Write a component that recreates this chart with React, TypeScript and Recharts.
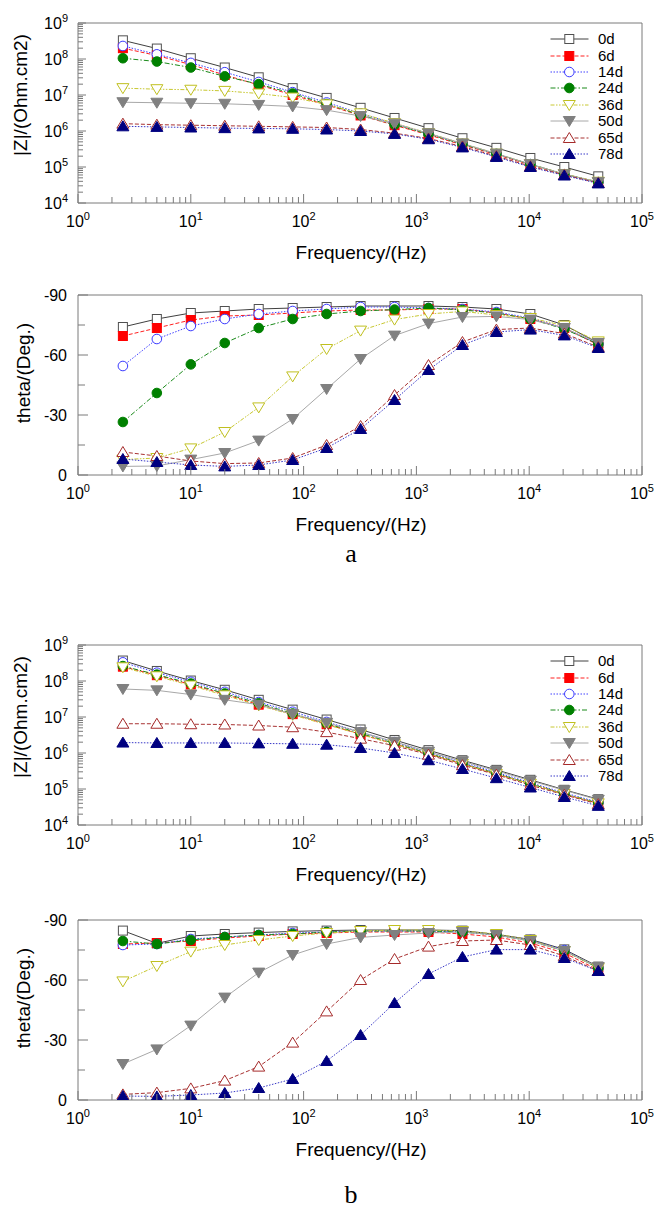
import React from 'react'
import { LineChart, Line, XAxis, YAxis, ReferenceArea, Legend } from 'recharts'

// frequency points (Hz)
const freqs = [2.5, 5, 10, 20, 40, 80, 160, 320, 640, 1280, 2560, 5120, 10240, 20480, 40960]
const seriesNames = ['0d', '6d', '14d', '24d', '36d', '50d', '65d', '78d']

// panel a, |Z| (Ohm.cm2)
const zA0 = [3.3e8, 1.95e8, 1.05e8, 5.8e7, 3.1e7, 1.55e7, 8.3e6, 4.4e6, 2.3e6, 1.2e6, 6.3e5, 3.4e5, 1.78e5, 1.0e5, 5.5e4]
const zA6 = [2.0e8, 1.25e8, 7.0e7, 3.6e7, 1.9e7, 1.0e7, 5.3e6, 2.7e6, 1.45e6, 7.8e5, 4.1e5, 2.2e5, 1.15e5, 6.2e4, 3.8e4]
const zA14 = [2.3e8, 1.35e8, 7.8e7, 4.3e7, 2.3e7, 1.2e7, 6.2e6, 3.1e6, 1.6e6, 8.4e5, 4.4e5, 2.3e5, 1.2e5, 6.3e4, 3.8e4]
const zA24 = [1.05e8, 8.5e7, 5.8e7, 3.3e7, 2.0e7, 1.1e7, 5.6e6, 2.8e6, 1.5e6, 8.2e5, 4.3e5, 2.3e5, 1.2e5, 6.3e4, 3.8e4]
const zA36 = [1.55e7, 1.45e7, 1.4e7, 1.3e7, 1.1e7, 8.5e6, 5.5e6, 3.1e6, 1.65e6, 8.7e5, 4.5e5, 2.35e5, 1.2e5, 6.4e4, 3.9e4]
const zA50 = [6.3e6, 6.1e6, 5.9e6, 5.7e6, 5.3e6, 4.8e6, 3.8e6, 2.6e6, 1.6e6, 8.6e5, 4.5e5, 2.35e5, 1.2e5, 6.3e4, 3.8e4]
const zA65 = [1.6e6, 1.5e6, 1.45e6, 1.4e6, 1.35e6, 1.3e6, 1.25e6, 1.1e6, 8.7e5, 6.2e5, 3.7e5, 2.0e5, 1.05e5, 6.0e4, 3.6e4]
const zA78 = [1.35e6, 1.3e6, 1.25e6, 1.2e6, 1.18e6, 1.15e6, 1.1e6, 1.0e6, 8.3e5, 5.9e5, 3.5e5, 1.9e5, 1.0e5, 5.8e4, 3.5e4]

// panel a, phase angle (deg)
const tA0 = [-74, -78, -81, -82, -83, -83.5, -84, -84.5, -84.5, -84.5, -84, -83, -80.5, -75, -66]
const tA6 = [-69.5, -73.5, -77.5, -79.5, -80, -81, -82, -82.5, -82.5, -83, -83, -81, -78, -73.5, -65]
const tA14 = [-54.5, -68, -74.5, -78, -80.5, -82, -83, -84, -84, -83.5, -83, -81.5, -78.5, -73.5, -65.5]
const tA24 = [-26.5, -41, -55.3, -66, -73.5, -78, -80.5, -82, -82.7, -83.5, -82.5, -81, -78, -73, -65.5]
const tA36 = [-7.7, -8.5, -13.3, -21.5, -33.8, -49.3, -63, -72.2, -77.7, -80.5, -81.8, -80, -78.5, -74.7, -66.8]
const tA50 = [-4.3, -4.5, -7.7, -11, -17.2, -28, -43, -58, -69.7, -75.7, -79, -79.3, -77.7, -73.5, -66]
const tA65 = [-11.5, -9.5, -7, -5.7, -6, -8.5, -15, -24.5, -40, -55, -66.5, -72.7, -73.5, -70.7, -64]
const tA78 = [-8, -6.5, -5, -4.3, -5, -7.5, -13.5, -23, -37.5, -52.5, -65, -71.5, -72.7, -69.8, -63.5]

// panel b, |Z| (Ohm.cm2)
const zB0 = [3.7e8, 1.9e8, 1.03e8, 5.7e7, 3.0e7, 1.6e7, 8.5e6, 4.5e6, 2.3e6, 1.2e6, 6.3e5, 3.4e5, 1.8e5, 9.5e4, 5.2e4]
const zB6 = [2.5e8, 1.45e8, 8.0e7, 4.3e7, 2.2e7, 1.2e7, 6.3e6, 3.3e6, 1.8e6, 9.5e5, 5.0e5, 2.6e5, 1.4e5, 7.2e4, 4.0e4]
const zB14 = [3.3e8, 1.7e8, 9.5e7, 5.0e7, 2.6e7, 1.4e7, 7.3e6, 3.8e6, 2.0e6, 1.05e6, 5.5e5, 2.9e5, 1.5e5, 7.8e4, 4.3e4]
const zB24 = [2.6e8, 1.5e8, 8.5e7, 4.5e7, 2.4e7, 1.25e7, 6.6e6, 3.5e6, 1.85e6, 9.8e5, 5.1e5, 2.7e5, 1.4e5, 7.3e4, 4.1e4]
const zB36 = [2.4e8, 1.35e8, 7.5e7, 4.0e7, 2.1e7, 1.15e7, 6.1e6, 3.3e6, 1.75e6, 9.5e5, 5.0e5, 2.6e5, 1.4e5, 7.2e4, 4.0e4]
const zB50 = [6.0e7, 5.5e7, 4.2e7, 3.0e7, 2.2e7, 1.2e7, 6.9e6, 3.8e6, 2.05e6, 1.08e6, 5.9e5, 3.2e5, 1.7e5, 9.2e4, 5.0e4]
const zB65 = [6.5e6, 6.5e6, 6.3e6, 6.2e6, 5.8e6, 5.2e6, 3.8e6, 2.5e6, 1.6e6, 9.0e5, 4.6e5, 2.5e5, 1.27e5, 6.9e4, 3.8e4]
const zB78 = [1.95e6, 1.9e6, 1.9e6, 1.9e6, 1.85e6, 1.8e6, 1.7e6, 1.38e6, 1.0e6, 6.3e5, 3.6e5, 2.0e5, 1.1e5, 6.0e4, 3.4e4]

// panel b, phase angle (deg)
const tB0 = [-84.7, -78.3, -82, -83, -83.7, -84.3, -84.7, -85, -85, -85, -84.7, -82.8, -80.3, -75.3, -66.7]
const tB6 = [-78, -78.5, -79.5, -81, -82, -83, -83.5, -84, -84, -84, -83, -81.5, -78.5, -73.5, -65]
const tB14 = [-77.5, -78, -80.5, -81.5, -82.5, -83.5, -84, -84.5, -84.5, -84.5, -84, -82.5, -80, -75, -66]
const tB24 = [-79.5, -78, -80, -81.5, -82.5, -83, -84, -84.5, -84.5, -84.5, -84, -82.5, -79.5, -74.5, -66]
const tB36 = [-59.3, -67, -74.2, -77.5, -80, -82, -83.5, -84.5, -85, -85, -84.5, -83, -80, -74.5, -66]
const tB50 = [-18, -25.3, -37.2, -51.2, -63.7, -72.5, -78, -81.3, -82.5, -83.5, -84, -82.5, -79.5, -74.5, -66.5]
const tB65 = [-2.8, -3.7, -5.8, -9.7, -16.7, -28.7, -44.3, -60, -70.5, -76.7, -79.5, -80, -77.5, -72, -64.5]
const tB78 = [-2, -1.8, -2.5, -3.5, -6, -10.5, -19.5, -32.5, -48.5, -63, -71.5, -75.2, -75.2, -71, -64.5]

const thetaTicks = [-90, -75, -60, -45, -30, -15, 0]

const FONT = '"Liberation Sans", Arial, sans-serif'
const AXIS = '#7a7a7a'

const keys = seriesNames.map((n) => 's' + n)

const styles = [
  { line: '#404040', dash: undefined, shape: 'square', fill: '#ffffff', edge: '#505050' },
  { line: '#ff2020', dash: '4 2', shape: 'square', fill: '#ff0000', edge: '#ff0000' },
  { line: '#4040ff', dash: '1.5 1.5', shape: 'circle', fill: '#ffffff', edge: '#3a3aff' },
  { line: '#1a8a1a', dash: '5 2 1.5 2', shape: 'circle', fill: '#008000', edge: '#008000' },
  { line: '#c8c832', dash: '4 1.5 1.5 1.5 1.5 1.5', shape: 'down', fill: '#ffffff', edge: '#c0c020' },
  { line: '#a8a8a8', dash: undefined, shape: 'down', fill: '#808080', edge: '#808080' },
  { line: '#a83232', dash: '4 2', shape: 'up', fill: '#ffffff', edge: '#a52a2a' },
  { line: '#3838c8', dash: '1.5 1.5', shape: 'up', fill: '#000080', edge: '#000080' },
]

function buildRows(cols: number[][]) {
  return freqs.map((f, i) => {
    const row: Record<string, number> = { f }
    cols.forEach((c, k) => {
      row[keys[k]] = c[i]
    })
    return row
  })
}

// log ticks: decades plus 2..9 minors
function logTicks(lo: number, hi: number) {
  const out: number[] = []
  for (let e = lo; e <= hi; e++) {
    out.push(Math.pow(10, e))
    if (e < hi) for (let m = 2; m <= 9; m++) out.push(m * Math.pow(10, e))
  }
  return out
}
const xTicks = logTicks(0, 5)
const zTicks = logTicks(4, 9)

function isDecade(v: number) {
  const e = Math.log10(v)
  return Math.abs(e - Math.round(e)) < 1e-9
}

function Marker({ cx, cy, shape, fill, edge }: any) {
  if (cx == null || cy == null) return null
  if (shape === 'square')
    return <rect x={cx - 4.5} y={cy - 4.5} width={9} height={9} fill={fill} stroke={edge} strokeWidth={1} />
  if (shape === 'circle') return <circle cx={cx} cy={cy} r={4.8} fill={fill} stroke={edge} strokeWidth={1} />
  if (shape === 'down')
    return (
      <polygon
        points={`${cx - 6},${cy - 4.5} ${cx + 6},${cy - 4.5} ${cx},${cy + 5.5}`}
        fill={fill}
        stroke={edge}
        strokeWidth={1}
      />
    )
  return (
    <polygon
      points={`${cx - 6},${cy + 4.5} ${cx + 6},${cy + 4.5} ${cx},${cy - 5.5}`}
      fill={fill}
      stroke={edge}
      strokeWidth={1}
    />
  )
}

function LogXTick(props: any) {
  const { x, y, payload } = props
  const v = payload.value
  const major = isDecade(v)
  return (
    <g>
      <line x1={x} x2={x} y1={y} y2={y - (major ? 9 : 6)} stroke={AXIS} />
      {major && (
        <text x={x} y={y + 24} textAnchor="middle" fontSize={16} fill="#000" fontFamily={FONT}>
          10
          <tspan dy={-7} fontSize={11}>
            {Math.round(Math.log10(v))}
          </tspan>
        </text>
      )}
    </g>
  )
}

function LogYTick(props: any) {
  const { x, y, payload } = props
  const v = payload.value
  const major = isDecade(v)
  return (
    <g>
      <line x1={x} x2={x + (major ? 8 : 5)} y1={y} y2={y} stroke={AXIS} />
      {major && (
        <text x={x - 10} y={y + 6} textAnchor="end" fontSize={16} fill="#000" fontFamily={FONT}>
          10
          <tspan dy={-7} fontSize={11}>
            {Math.round(Math.log10(v))}
          </tspan>
        </text>
      )}
    </g>
  )
}

function ThetaTick(props: any) {
  const { x, y, payload } = props
  const v = payload.value
  const major = v % 30 === 0
  return (
    <g>
      <line x1={x} x2={x + (major ? 10 : 7)} y1={y} y2={y} stroke={AXIS} />
      {major && (
        <text x={x - 11} y={y + 6} textAnchor="end" fontSize={16} fill="#000" fontFamily={FONT}>
          {v}
        </text>
      )}
    </g>
  )
}

function XTitle(props: any) {
  const vb = props.viewBox || { x: 78, y: 203, width: 564 }
  return (
    <text x={vb.x + vb.width / 2 + 1} y={vb.y + 55.5} textAnchor="middle" fontSize={19} fill="#000" fontFamily={FONT}>
      Frequency/(Hz)
    </text>
  )
}

function YTitle(props: any) {
  const vb = props.viewBox || { y: 23 }
  const cx = props.bx
  const cy = vb.y + props.dy
  return (
    <text
      x={cx}
      y={cy}
      transform={`rotate(-90 ${cx} ${cy})`}
      textAnchor="middle"
      fontSize={19}
      fill="#000"
      fontFamily={FONT}
    >
      {props.text}
    </text>
  )
}

function LegendBox() {
  return (
    <div style={{ fontFamily: FONT, fontSize: 15, color: '#000' }}>
      {seriesNames.map((n, i) => {
        const s = styles[i]
        return (
          <div key={n} style={{ display: 'flex', alignItems: 'center', height: 16.4 }}>
            <svg width={40} height={16} style={{ display: 'block' }}>
              <line x1={0.5} x2={38.5} y1={8} y2={8} stroke={s.line} strokeDasharray={s.dash} strokeWidth={1} />
              <Marker cx={19.3} cy={8} shape={s.shape} fill={s.fill} edge={s.edge} />
            </svg>
            <span style={{ marginLeft: 8, lineHeight: '16px' }}>{n}</span>
          </div>
        )
      })}
    </div>
  )
}

function Panel({ top, rows, kind }: { top: number; rows: Record<string, number>[]; kind: 'z' | 't' }) {
  const isZ = kind === 'z'
  return (
    <div style={{ position: 'absolute', left: 0, top }}>
      <LineChart width={657} height={265} data={rows} margin={{ top: 23, right: 15, bottom: 0, left: 8 }}>
        <XAxis
          dataKey="f"
          type="number"
          scale="log"
          domain={[1, 100000]}
          allowDataOverflow
          ticks={xTicks}
          interval={0}
          tickSize={0}
          tickMargin={0}
          axisLine={false}
          tickLine={false}
          tick={(p: any) => <LogXTick {...p} />}
          height={62}
          label={<XTitle />}
        />
        {isZ ? (
          <YAxis
            type="number"
            scale="log"
            domain={[1e4, 1e9]}
            allowDataOverflow
            ticks={zTicks}
            interval={0}
            tickSize={0}
            tickMargin={0}
            axisLine={false}
            tickLine={false}
            tick={(p: any) => <LogYTick {...p} />}
            width={70}
            label={<YTitle text="|Z|/(Ohm.cm2)" bx={26.5} dy={72} />}
          />
        ) : (
          <YAxis
            type="number"
            domain={[-90, 0]}
            reversed
            allowDataOverflow
            ticks={thetaTicks}
            interval={0}
            tickSize={0}
            tickMargin={0}
            axisLine={false}
            tickLine={false}
            tick={(p: any) => <ThetaTick {...p} />}
            width={70}
            label={<YTitle text="theta/(Deg.)" bx={30} dy={78} />}
          />
        )}
        <ReferenceArea
          x1={1}
          x2={100000}
          y1={isZ ? 1e4 : -90}
          y2={isZ ? 1e9 : 0}
          fill="none"
          stroke={AXIS}
          strokeWidth={1}
        />
        {keys.map((k, i) => {
          const s = styles[i]
          return (
            <Line
              key={k}
              dataKey={k}
              name={seriesNames[i]}
              type="linear"
              stroke={s.line}
              strokeWidth={1}
              strokeDasharray={s.dash}
              activeDot={false}
              isAnimationActive={false}
              dot={(p: any) => (
                <Marker key={`${k}-${p.index}`} cx={p.cx} cy={p.cy} shape={s.shape} fill={s.fill} edge={s.edge} />
              )}
            />
          )
        })}
        {isZ && (
          <Legend
            layout="vertical"
            align="center"
            verticalAlign="middle"
            wrapperStyle={{ top: 31, left: 550, width: 90 }}
            content={() => <LegendBox />}
          />
        )}
      </LineChart>
    </div>
  )
}

function PanelTag({ text, top }: { text: string; top: number }) {
  return (
    <svg width={60} height={38} style={{ position: 'absolute', left: 321, top }}>
      <text x={30} y={30} textAnchor="middle" fontSize={26} fontFamily='"Liberation Serif", "Times New Roman", serif'>
        {text}
      </text>
    </svg>
  )
}

export default function App() {
  const rowsZA = buildRows([zA0, zA6, zA14, zA24, zA36, zA50, zA65, zA78])
  const rowsTA = buildRows([tA0, tA6, tA14, tA24, tA36, tA50, tA65, tA78])
  const rowsZB = buildRows([zB0, zB6, zB14, zB24, zB36, zB50, zB65, zB78])
  const rowsTB = buildRows([tB0, tB6, tB14, tB24, tB36, tB50, tB65, tB78])
  return (
    <div
      style={{
        position: 'absolute',
        left: 0,
        top: 0,
        width: 657,
        height: 1211,
        background: '#fff',
        fontFamily: FONT,
        overflow: 'hidden',
      }}
    >
      <Panel top={0} rows={rowsZA} kind="z" />
      <Panel top={272} rows={rowsTA} kind="t" />
      <PanelTag text="a" top={532} />
      <Panel top={622} rows={rowsZB} kind="z" />
      <Panel top={897} rows={rowsTB} kind="t" />
      <PanelTag text="b" top={1173} />
    </div>
  )
}
